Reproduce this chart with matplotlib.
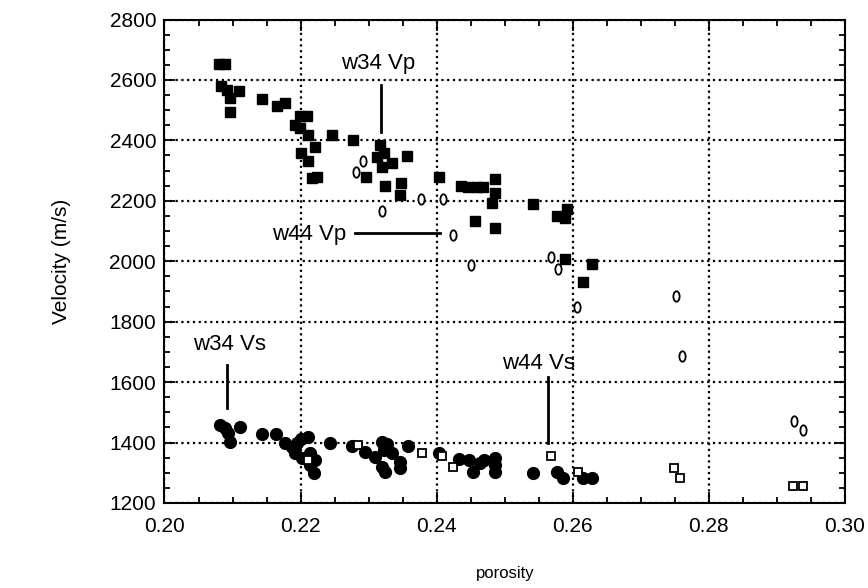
import numpy as np
import matplotlib
matplotlib.use('Agg')
import matplotlib.pyplot as plt
from matplotlib.path import Path
from matplotlib.ticker import MultipleLocator

plt.rcParams['font.family'] = ['Liberation Sans', 'DejaVu Sans']

# w34 Vp (filled squares)
w34_vp_phi = [0.2080, 0.2089, 0.2083, 0.2092, 0.2096, 0.2110, 0.2096, 0.2143, 0.2165, 0.2177,
              0.2199, 0.2209, 0.2192, 0.2199, 0.2211, 0.2201, 0.2221, 0.2211, 0.2217, 0.2224,
              0.2246, 0.2277, 0.2317, 0.2312, 0.2322, 0.2319, 0.2334, 0.2357, 0.2296, 0.2324,
              0.2347, 0.2346, 0.2404, 0.2436, 0.2446, 0.2459, 0.2468, 0.2485, 0.2485, 0.2481,
              0.2456, 0.2485, 0.2541, 0.2577, 0.2589, 0.2591, 0.2589, 0.2628, 0.2615]
w34_vp = [2653, 2653, 2580, 2567, 2540, 2563, 2494, 2537, 2515, 2523,
          2481, 2481, 2451, 2440, 2418, 2357, 2379, 2333, 2276, 2279,
          2418, 2401, 2385, 2346, 2357, 2313, 2326, 2348, 2280, 2249,
          2260, 2219, 2280, 2249, 2247, 2247, 2247, 2271, 2227, 2194,
          2133, 2111, 2189, 2150, 2142, 2172, 2006, 1990, 1930]

# w44 Vp (open ellipses)
w44_vp_phi = [0.2291, 0.2282, 0.2319, 0.2377, 0.2410, 0.2424, 0.2450, 0.2568, 0.2578, 0.2606,
              0.2751, 0.2760, 0.2925, 0.2939]
w44_vp = [2333, 2296, 2167, 2205, 2205, 2087, 1988, 2013, 1973, 1849,
          1885, 1688, 1472, 1442]

# w34 Vs (filled circles)
w34_vs_phi = [0.2082, 0.2089, 0.2094, 0.2096, 0.2111, 0.2144, 0.2164, 0.2177, 0.2187, 0.2194,
              0.2201, 0.2211, 0.2192, 0.2202, 0.2214, 0.2221, 0.2214, 0.2219, 0.2243, 0.2275,
              0.2295, 0.2309, 0.2319, 0.2322, 0.2334, 0.2319, 0.2324, 0.2346, 0.2346, 0.2358,
              0.2404, 0.2433, 0.2447, 0.2454, 0.2464, 0.2470, 0.2485, 0.2485, 0.2485, 0.2541,
              0.2577, 0.2586, 0.2615, 0.2628, 0.2327]
w34_vs = [1458, 1447, 1431, 1403, 1453, 1428, 1428, 1398, 1386, 1398,
          1411, 1419, 1365, 1348, 1365, 1342, 1326, 1298, 1398, 1390,
          1370, 1353, 1403, 1375, 1367, 1320, 1302, 1337, 1315, 1389,
          1365, 1345, 1342, 1304, 1331, 1342, 1348, 1325, 1304, 1298,
          1304, 1282, 1282, 1282, 1396]

# w44 Vs (open squares)
w44_vs_phi = [0.2285, 0.2211, 0.2378, 0.2408, 0.2424, 0.2568, 0.2607, 0.2749, 0.2758, 0.2924, 0.2938]
w44_vs = [1393, 1342, 1365, 1356, 1320, 1356, 1304, 1315, 1282, 1256, 1256]

# vertical ellipse marker
circ = Path.unit_circle()
ellipse = Path(circ.vertices * np.array([0.6, 1.0]), circ.codes)

fig = plt.figure(figsize=(8.68, 5.88), dpi=100)
ax = fig.add_axes([0.1895, 0.1446, 0.784, 0.8222])

ax.plot(w34_vp_phi, w34_vp, ls='none', marker='s', ms=7.5, mfc='black', mec='black')
ax.plot(w44_vp_phi, w44_vp, ls='none', marker=ellipse, ms=7.5, mfc='white', mec='black', mew=1.3)
ax.plot(w34_vs_phi, w34_vs, ls='none', marker='o', ms=8.5, mfc='black', mec='black')
ax.plot(w44_vs_phi, w44_vs, ls='none', marker='s', ms=5.5, mfc='white', mec='black', mew=1.3)

ax.set_xlim(0.20, 0.30)
ax.set_ylim(1200, 2800)
ax.xaxis.set_major_locator(MultipleLocator(0.02))
ax.xaxis.set_minor_locator(MultipleLocator(0.005))
ax.yaxis.set_major_locator(MultipleLocator(200))
ax.yaxis.set_minor_locator(MultipleLocator(50))
ax.xaxis.set_major_formatter(matplotlib.ticker.FormatStrFormatter('%.2f'))

ax.tick_params(which='both', direction='in', top=True, right=True, labelsize=15, width=1.3)
ax.tick_params(axis='x', pad=10)
ax.tick_params(axis='y', pad=6)
ax.tick_params(which='major', length=8)
ax.tick_params(which='minor', length=4)
for s in ax.spines.values():
    s.set_linewidth(1.5)

ax.grid(which='major', color='black', linestyle=(0, (1, 1.6)), linewidth=1.6)
ax.set_axisbelow(True)

ax.set_xlabel('porosity', fontsize=12, labelpad=22)
ax.set_ylabel('Velocity (m/s)', fontsize=15, labelpad=28)

# labels and pointer lines
ax.text(0.2314, 2654, 'w34 Vp', fontsize=16, ha='center', va='center')
ax.plot([0.2318, 0.2318], [2583, 2428], color='black', lw=2)
ax.text(0.2213, 2090, 'w44 Vp', fontsize=16, ha='center', va='center')
ax.plot([0.2280, 0.2405], [2095, 2095], color='black', lw=2)
ax.text(0.2095, 1723, 'w34 Vs', fontsize=16, ha='center', va='center')
ax.plot([0.2092, 0.2092], [1657, 1514], color='black', lw=2)
ax.text(0.2549, 1663, 'w44 Vs', fontsize=16, ha='center', va='center')
ax.plot([0.2564, 0.2564], [1618, 1398], color='black', lw=2)

fig.savefig('out.png', dpi=100)
